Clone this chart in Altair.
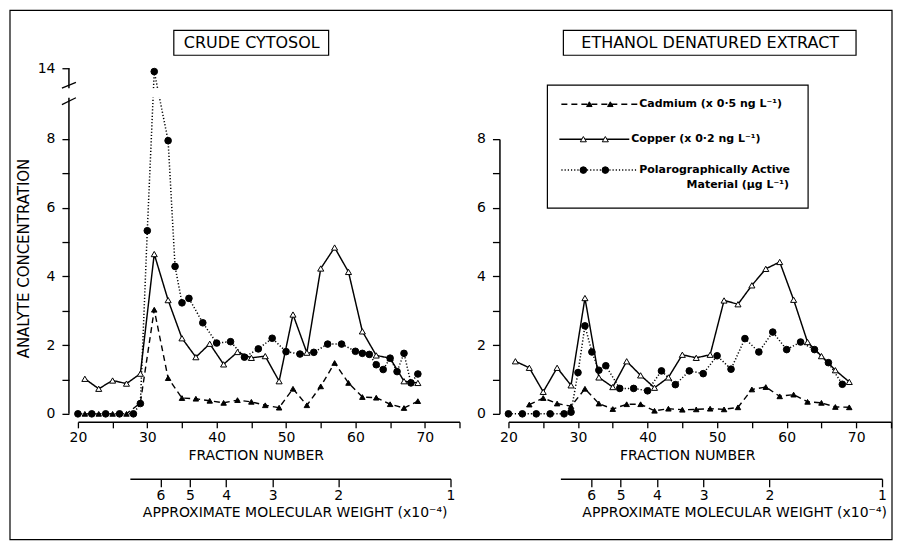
import altair as alt
import pandas as pd

# ---------------- data ----------------
SERIES = ["Cadmium", "Copper", "Polarographically Active Material"]

# Crude cytosol panel
CC_CD_FRACTION = [21, 23, 25, 27, 29, 31, 33, 35, 37, 39, 41, 43, 45, 47, 49, 51, 53, 55, 57, 59, 61, 63, 65, 67, 69]
CC_CD_VALUE = [0.0, 0.0, 0.0, 0.0, 0.32, 3.03, 1.04, 0.46, 0.44, 0.38, 0.32, 0.40, 0.35, 0.25, 0.18, 0.73, 0.25,
               0.80, 1.48, 0.90, 0.49, 0.47, 0.28, 0.17, 0.37]
CC_CU_FRACTION = [21, 23, 25, 27, 29, 31, 33, 35, 37, 39, 41, 43, 45, 47, 49, 51, 53, 55, 57, 59, 61, 63, 65, 67, 69]
CC_CU_VALUE = [1.02, 0.73, 0.97, 0.88, 1.17, 4.65, 3.31, 2.20, 1.65, 2.04, 1.44, 1.80, 1.63, 1.68, 0.95, 2.89, 1.78,
               4.23, 4.84, 4.13, 2.40, 1.70, 1.62, 0.95, 0.90]
CC_PA_FRACTION = [20, 22, 24, 26, 28, 29, 30, 31, 33, 34, 35, 36, 38, 40, 42, 44, 46, 48, 50, 52, 54, 56, 58, 60,
                  61, 62, 63, 64, 65, 66, 67, 68, 69]
CC_PA_VALUE = [0.0, 0.0, 0.0, 0.0, 0.0, 0.30, 5.33, 13.8, 7.95, 4.29, 3.23, 3.36, 2.65, 2.06, 2.10, 1.65, 1.89, 2.20,
               1.81, 1.74, 1.79, 2.03, 2.03, 1.82, 1.76, 1.73, 1.43, 1.29, 1.62, 1.23, 1.76, 0.90, 1.16]

# Ethanol denatured extract panel
ED_CD_FRACTION = [23, 25, 27, 29, 31, 33, 35, 37, 39, 41, 43, 45, 47, 49, 51, 53, 55, 57, 59, 61, 63, 65, 67, 69]
ED_CD_VALUE = [0.27, 0.46, 0.30, 0.22, 0.73, 0.30, 0.14, 0.28, 0.28, 0.09, 0.15, 0.12, 0.13, 0.15, 0.13, 0.19,
               0.71, 0.78, 0.51, 0.56, 0.35, 0.32, 0.20, 0.19]
ED_CU_FRACTION = [21, 23, 25, 27, 29, 31, 33, 35, 37, 39, 41, 43, 45, 47, 49, 51, 53, 55, 57, 59, 61, 63, 65, 67, 69]
ED_CU_VALUE = [1.53, 1.34, 0.64, 1.34, 0.83, 3.37, 1.06, 0.78, 1.53, 1.12, 0.76, 1.06, 1.72, 1.63, 1.72, 3.30, 3.19,
               3.74, 4.22, 4.42, 3.32, 2.09, 1.68, 1.27, 0.93]
ED_PA_FRACTION = [20, 22, 24, 26, 28, 29, 30, 31, 32, 33, 34, 36, 38, 40, 42, 44, 46, 48, 50, 52, 54, 56, 58, 60,
                  62, 64, 66, 68]
ED_PA_VALUE = [0.0, 0.0, 0.0, 0.0, 0.0, 0.05, 1.20, 2.56, 1.80, 1.27, 1.40, 0.74, 0.74, 0.67, 1.25, 0.85, 1.25, 1.17,
               1.69, 1.30, 2.19, 1.80, 2.38, 1.87, 2.09, 1.87, 1.49, 0.86]

MW_TICKS = [6, 5, 4, 3, 2, 1]
FRACTION_TICKS = [20, 25, 30, 35, 40, 45, 50, 55, 60, 65, 70, 75]
LEFT_Y_TICKS = [0, 1, 2, 3, 4, 5, 6, 7, 8, 14]
RIGHT_Y_TICKS = [0, 1, 2, 3, 4, 5, 6, 7, 8]

TITLE_LEFT = "CRUDE CYTOSOL"
TITLE_RIGHT = "ETHANOL DENATURED EXTRACT"
Y_TITLE = "ANALYTE CONCENTRATION"
X_TITLE = "FRACTION NUMBER"
MW_TITLE = "APPROXIMATE MOLECULAR WEIGHT (x10\u207b\u2074)"
LEGEND_LABELS = ["Cadmium (x 0\u00b75 ng L\u207b\u00b9)", "Copper (x 0\u00b72 ng L\u207b\u00b9)",
                 "Polarographically Active", "Material (\u00b5g L\u207b\u00b9)"]

# ---------------- layout constants ----------------
FONT = "DejaVu Sans"
H = 346
UNIT = 34.4
W_L = 382
W_R = 383

dash_scale = alt.Scale(domain=SERIES, range=[[6, 4], [1, 0], [1.2, 2.0]])
shape_scale = alt.Scale(domain=SERIES, range=["triangle-up", "triangle-up", "circle"])
fill_scale = alt.Scale(domain=SERIES, range=["black", "white", "black"])
size_scale = alt.Scale(domain=SERIES, range=[30, 44, 15])
width_scale = alt.Scale(domain=SERIES, range=[1.4, 1.5, 1.3])


def panel_df(cd_f, cd_v, cu_f, cu_v, pa_f, pa_v):
    parts = []
    for s, f, v in zip(SERIES, (cd_f, cu_f, pa_f), (cd_v, cu_v, pa_v)):
        parts.append(pd.DataFrame({"series": s, "fraction": f, "value": v}))
    return pd.concat(parts, ignore_index=True)


def x_enc(field, title_x):
    return alt.X(f"{field}:Q", scale=alt.Scale(domain=[20, 75]),
                 axis=alt.Axis(values=FRACTION_TICKS,
                               labelExpr="datum.value % 10 == 0 && datum.value <= 70 ? datum.label : ''",
                               offset=8, tickSize=6, labelPadding=3, labelFlush=False, labelOverlap=False,
                               title=X_TITLE, titleX=title_x, titleY=34, titleBaseline="middle"))


def mw_layer(range_end, title_x):
    return alt.Chart(pd.DataFrame({"mw": MW_TICKS})).mark_point(opacity=0).encode(
        x=alt.X("mw:Q", scale=alt.Scale(type="log", domain=[7.25, 1], range=[52, range_end]),
                axis=alt.Axis(orient="bottom", offset=65, values=MW_TICKS, format="d", tickSize=8,
                              labelPadding=2, labelFlush=False, labelOverlap=False,
                              title=MW_TITLE, titleX=title_x, titleY=34, titleBaseline="middle")),
        y=alt.value(0))


def data_layers(df, x, y):
    lines = alt.Chart(df).mark_line(color="black").encode(
        x=x, y=y,
        strokeDash=alt.StrokeDash("series:N", scale=dash_scale, legend=None),
        strokeWidth=alt.StrokeWidth("series:N", scale=width_scale, legend=None),
        detail="series:N")
    points = alt.Chart(df).mark_point(filled=True, stroke="black", strokeWidth=1, opacity=1).encode(
        x=x, y=y,
        shape=alt.Shape("series:N", scale=shape_scale, legend=None),
        fill=alt.Fill("series:N", scale=fill_scale, legend=None),
        size=alt.Size("series:N", scale=size_scale, legend=None))
    return lines, points


def title_box(text, cx, x0, x1):
    tdf = pd.DataFrame({"t": [text]})
    box = alt.Chart(tdf).mark_rect(filled=False, stroke="black", strokeWidth=1.2).encode(
        x=alt.value(x0), x2=alt.value(x1), y=alt.value(-38), y2=alt.value(-13))
    txt = alt.Chart(tdf).mark_text(font=FONT, fontSize=16, color="black", baseline="middle").encode(
        x=alt.value(cx), y=alt.value(-25), text="t:N")
    return box, txt


# ---------------- left panel ----------------
df_l = panel_df(CC_CD_FRACTION, CC_CD_VALUE, CC_CU_FRACTION, CC_CU_VALUE, CC_PA_FRACTION, CC_PA_VALUE)
y_l_scale = alt.Scale(domain=[0, 9.2, 12.8, 14], range=[H, H - 9.2 * UNIT, 20, 0])
y_l_axis = alt.Axis(values=LEFT_Y_TICKS, labelExpr="datum.value % 2 == 0 ? datum.label : ''",
                    offset=9, domain=False, tickSize=7, labelPadding=7, labelOverlap=False,
                    title=Y_TITLE, titleX=-45, titleY=190, titleBaseline="middle", titleAngle=-90,
                    titleFontSize=15)
x_l = x_enc("fraction", 178)
y_l = alt.Y("value:Q", scale=y_l_scale, axis=y_l_axis)

lines_l, points_l = data_layers(df_l, x_l, y_l)

# break in the polarographic peak line
brk = alt.Chart(pd.DataFrame({"f0": [29.5], "f1": [33.5], "v0": [9.28], "v1": [12.72]})).mark_rect(
    color="white").encode(x=x_enc("f0", 178), x2="f1",
                          y=alt.Y("v0:Q", scale=y_l_scale, axis=y_l_axis), y2="v1")
# broken y axis line
axis_seg = alt.Chart(pd.DataFrame({"a": [0, 12.8], "b": [9.2, 14]})).mark_rule(
    color="black", strokeWidth=1.5).encode(
    x=alt.value(-9), y=alt.Y("a:Q", scale=y_l_scale, axis=y_l_axis), y2="b")
slashes = alt.Chart(pd.DataFrame({"a": [9.0, 12.8], "b": [9.2, 13.15]})).mark_rule(
    color="black", strokeWidth=1.3).encode(
    x=alt.value(-16), x2=alt.value(-2), y=alt.Y("a:Q", scale=y_l_scale, axis=y_l_axis), y2="b")

box_l, txt_l = title_box(TITLE_LEFT, 174, 96, 251)
frame = alt.Chart(pd.DataFrame({"k": [0]})).mark_rect(filled=False, stroke="black", strokeWidth=1.2).encode(
    x=alt.value(-68), x2=alt.value(815), y=alt.value(-58), y2=alt.value(472))

inner_l = alt.layer(frame, lines_l, brk, points_l, axis_seg, slashes, box_l, txt_l)
left = alt.layer(inner_l, mw_layer(373, 217)).resolve_scale(x="independent").properties(width=W_L, height=H)

# ---------------- right panel ----------------
df_r = panel_df(ED_CD_FRACTION, ED_CD_VALUE, ED_CU_FRACTION, ED_CU_VALUE, ED_PA_FRACTION, ED_PA_VALUE)
y_r_scale = alt.Scale(domain=[0, 8], range=[H, H - 8 * UNIT])
y_r_axis = alt.Axis(values=RIGHT_Y_TICKS, labelExpr="datum.value % 2 == 0 ? datum.label : ''",
                    offset=9, tickSize=7, labelPadding=7, labelOverlap=False, title=None)
x_r = x_enc("fraction", 179)
y_r = alt.Y("value:Q", scale=y_r_scale, axis=y_r_axis)
lines_r, points_r = data_layers(df_r, x_r, y_r)
box_r, txt_r = title_box(TITLE_RIGHT, 202, 55, 348)

# legend (drawn inside the right panel)
leg_box = alt.Chart(pd.DataFrame({"k": [0]})).mark_rect(filled=False, stroke="black", strokeWidth=1.2).encode(
    x=alt.value(39), x2=alt.value(300), y=alt.value(17), y2=alt.value(140))
leg_lines_df = pd.DataFrame({
    "series": [SERIES[0], SERIES[0], SERIES[1], SERIES[1], SERIES[2], SERIES[2]],
    "lx": [53, 129, 51, 121, 53, 129],
    "ly": [36, 36, 71, 71, 102, 102]})
leg_pts_df = pd.DataFrame({
    "series": [SERIES[0], SERIES[0], SERIES[1], SERIES[1], SERIES[2], SERIES[2]],
    "lx": [81, 102, 75, 97, 75, 97],
    "ly": [36, 36, 71, 71, 102, 102]})
leg_lines = alt.Chart(leg_lines_df).mark_line(color="black").encode(
    x=alt.X("lx:Q", scale=None, axis=None), y=alt.Y("ly:Q", scale=None, axis=None),
    strokeDash=alt.StrokeDash("series:N", scale=dash_scale, legend=None),
    strokeWidth=alt.StrokeWidth("series:N", scale=width_scale, legend=None),
    detail="series:N")
leg_pts = alt.Chart(leg_pts_df).mark_point(filled=True, stroke="black", strokeWidth=1, opacity=1).encode(
    x=alt.X("lx:Q", scale=None, axis=None), y=alt.Y("ly:Q", scale=None, axis=None),
    shape=alt.Shape("series:N", scale=shape_scale, legend=None),
    fill=alt.Fill("series:N", scale=fill_scale, legend=None),
    size=alt.Size("series:N", scale=size_scale, legend=None))
leg_txt_df = pd.DataFrame({"label": LEGEND_LABELS[:3], "tx": [131, 123, 131], "ty": [36, 71, 102]})
leg_txt = alt.Chart(leg_txt_df).mark_text(font=FONT, fontSize=11, fontWeight="bold", color="black",
                                          align="left", baseline="middle").encode(
    x=alt.X("tx:Q", scale=None, axis=None), y=alt.Y("ty:Q", scale=None, axis=None), text="label:N")
leg_txt2 = alt.Chart(pd.DataFrame({"label": LEGEND_LABELS[3:], "tx": [281], "ty": [117]})).mark_text(
    font=FONT, fontSize=11, fontWeight="bold", color="black", align="right", baseline="middle").encode(
    x=alt.X("tx:Q", scale=None, axis=None), y=alt.Y("ty:Q", scale=None, axis=None), text="label:N")

inner_r = alt.layer(lines_r, points_r, box_r, txt_r)
right = alt.layer(inner_r, leg_box, leg_lines, leg_pts, leg_txt, leg_txt2, mw_layer(374, 226)).resolve_scale(
    x="independent").properties(width=W_R, height=H)

chart = alt.hconcat(left, right, spacing=49, bounds="flush").properties(padding=0).configure_view(
    stroke="transparent").configure_axis(
    grid=False, labelFont=FONT, labelFontSize=14, labelColor="black", titleFont=FONT, titleFontSize=14,
    titleFontWeight="normal", titleColor="black", domainColor="black", tickColor="black",
    domainWidth=1.5, tickWidth=1.3).configure_text(font=FONT)

chart.save("out.html", embed_options={"renderer": "svg", "actions": False})
